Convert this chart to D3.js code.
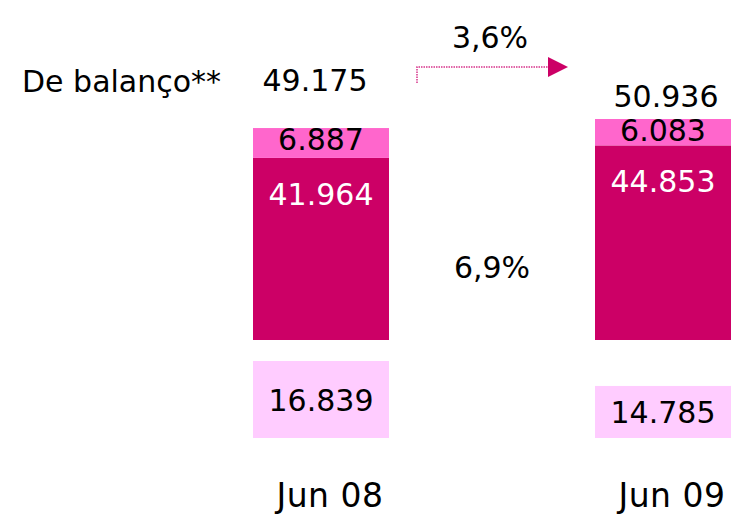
<!DOCTYPE html>
<html>
<head>
<meta charset="utf-8">
<style>
    body { margin: 0; background: #fff; }
    svg { display: block; font-family: 'DejaVu Sans', Verdana, sans-serif; }
    .lab { font-size: 30px; fill: #000; }
    .white { fill: #fff; }
    .xl { font-size: 33px; letter-spacing: 0.5px; }
</style>
</head>
<body>
<svg width="731" height="515"></svg>
<script src="https://d3js.org/d3.v7.min.js"></script>
<script>
    // data
    let periods = ["Jun 08", "Jun 09"];
    let upper = [6887, 6083];        // light pink top segment
    let lower = [41964, 44853];      // dark magenta segment
    let totals = [49175, 50936];
    let extra = [16839, 14785];      // separate boxes below
    let growthTop = "3,6%";
    let growthMid = "6,9%";
    let rowLabel = "De balanço**";

    let svg = d3.select("svg");
    let fmt = v => d3.format(",")(v).replace(/,/g, ".");

    let x = d3.scalePoint().domain(periods).range([321, 663]);
    let barW = 136;

    // stacked bars share a baseline
    let y = d3.scaleLinear().domain([0, 50936]).range([340, 119]);

    // lower boxes, bottom aligned
    let hBox = d3.scaleLinear().domain([10500, 16839]).range([0, 77]);
    let boxBottom = 438;

    let rows = periods.map((p, i) => ({ p, up: upper[i], lo: lower[i], tot: totals[i], ex: extra[i] }));

    let g = svg.append("g");

    // dark segment
    g.selectAll(".dark").data(rows).join("rect")
        .attr("class", "dark")
        .attr("x", d => x(d.p) - barW / 2)
        .attr("width", barW)
        .attr("y", d => y(d.lo))
        .attr("height", d => y(0) - y(d.lo))
        .attr("fill", "#cc0066");

    // light top segment
    g.selectAll(".light").data(rows).join("rect")
        .attr("class", "light")
        .attr("x", d => x(d.p) - barW / 2)
        .attr("width", barW)
        .attr("y", d => y(d.lo + d.up))
        .attr("height", d => y(d.lo) - y(d.lo + d.up))
        .attr("fill", "#ff66cc");

    // separate boxes
    g.selectAll(".box").data(rows).join("rect")
        .attr("class", "box")
        .attr("x", d => x(d.p) - barW / 2)
        .attr("width", barW)
        .attr("y", d => boxBottom - hBox(d.ex))
        .attr("height", d => hBox(d.ex))
        .attr("fill", "#ffccff");

    // labels
    g.selectAll(".loLab").data(rows).join("text")
        .attr("class", "lab white")
        .attr("text-anchor", "middle")
        .attr("x", d => x(d.p))
        .attr("y", d => y(d.lo) + 47)
        .text(d => fmt(d.lo));

    g.selectAll(".upLab").data(rows).join("text")
        .attr("class", "lab")
        .attr("text-anchor", "middle")
        .attr("x", d => x(d.p))
        .attr("y", d => y(d.lo + d.up) + 22)
        .text(d => fmt(d.up));

    g.selectAll(".totLab").data(rows).join("text")
        .attr("class", "lab")
        .attr("text-anchor", "middle")
        .attr("x", d => x(d.p) + (d.p == "Jun 08" ? -6 : 3))
        .attr("y", d => y(d.tot) - 12 - (d.p == "Jun 08" ? 24 : 0))
        .text(d => fmt(d.tot));

    g.selectAll(".exLab").data(rows).join("text")
        .attr("class", "lab")
        .attr("text-anchor", "middle")
        .attr("x", d => x(d.p))
        .attr("y", d => boxBottom - hBox(d.ex) / 2 + 11)
        .text(d => fmt(d.ex));

    g.selectAll(".xLab").data(rows).join("text")
        .attr("class", "lab xl")
        .attr("text-anchor", "middle")
        .attr("x", d => x(d.p) + 9)
        .attr("y", 507)
        .text(d => d.p);

    svg.append("text").attr("class", "lab")
        .attr("x", 22).attr("y", 92)
        .text(rowLabel);

    svg.append("text").attr("class", "lab")
        .attr("text-anchor", "middle")
        .attr("x", 492).attr("y", 278)
        .text(growthMid);

    svg.append("text").attr("class", "lab")
        .attr("text-anchor", "middle")
        .attr("x", 490).attr("y", 48)
        .text(growthTop);

    // growth arrow
    svg.append("path")
        .attr("d", "M417,83 V67 H550")
        .attr("fill", "none")
        .attr("stroke", "#d6338a")
        .attr("stroke-width", 1.5)
        .attr("stroke-dasharray", "1.5,1");

    svg.append("path")
        .attr("d", "M548,57 L568,67 L548,77 Z")
        .attr("fill", "#cc0066");
</script>
</body>
</html>
